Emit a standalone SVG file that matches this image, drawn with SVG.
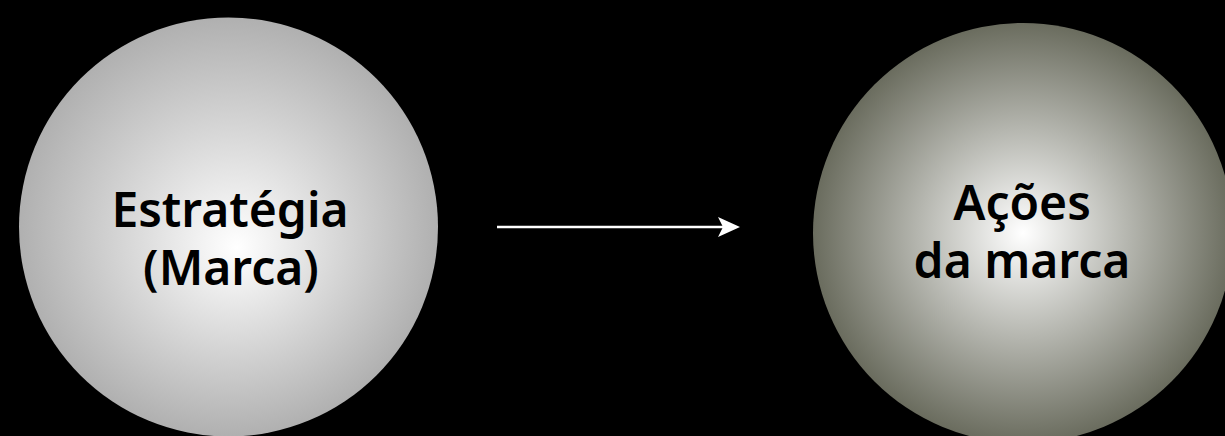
<svg xmlns="http://www.w3.org/2000/svg" width="1225" height="436" viewBox="0 0 1225 436">
<defs>
<radialGradient id="g1" cx="0.5" cy="0.5" r="0.5" fx="0.52" fy="0.55">
<stop offset="0" stop-color="#ffffff"/>
<stop offset="1" stop-color="#b0b0b0"/>
</radialGradient>
<radialGradient id="g2" cx="0.5" cy="0.5" r="0.5" fx="0.5" fy="0.5">
<stop offset="0" stop-color="#ffffff"/>
<stop offset="1" stop-color="#6a6c5e"/>
</radialGradient>
</defs>
<style>
.lbl{font-family:"Noto Sans","DejaVu Sans",sans-serif;font-weight:600;font-size:48px;fill:#000;text-anchor:middle}
</style>
<rect width="1225" height="436" fill="#000"/>
<g id="connectors">
<line x1="497" y1="227" x2="730" y2="227" stroke="#fff" stroke-width="2.5"/>
<path d="M718,217 L740,227 L718,237 L723,227 Z" fill="#fff"/>
</g>
<g id="node-estrategia">
<circle cx="228.5" cy="227" r="209.5" fill="url(#g1)"/>
<text class="lbl"><tspan x="230" y="227">Estratégia</tspan><tspan x="231" y="285">(Marca)</tspan></text>
</g>
<g id="node-acoes">
<circle cx="1023" cy="233" r="210" fill="url(#g2)"/>
<text class="lbl"><tspan x="1022" y="220">Ações</tspan><tspan x="1022" y="278">da marca</tspan></text>
</g>
</svg>
